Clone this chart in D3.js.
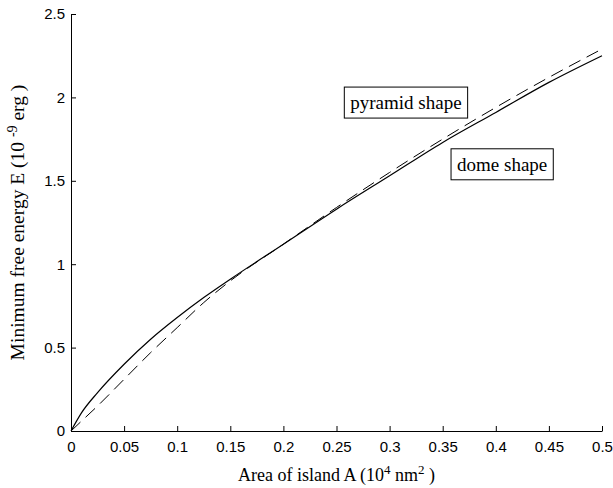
<!DOCTYPE html>
<html>
<head>
<meta charset="utf-8">
<script src="https://cdn.jsdelivr.net/npm/d3@7"></script>
<style>
  body { margin: 0; background: #fff; }
  svg { display: block; }
  .tick text { font-family: "Liberation Sans", Arial, sans-serif; font-size: 15px; fill: #000; }
  .serif { font-family: "Liberation Serif", "Times New Roman", serif; font-size: 18px; fill: #000; }
</style>
</head>
<body>
<div class="container"></div>
<script>
// island area (10^4 nm^2)
const areas = [0, 0.01, 0.025, 0.05, 0.075, 0.1, 0.125, 0.15, 0.2, 0.25, 0.3, 0.35, 0.4, 0.45, 0.5];
// dome shape (solid)
const domeEnergy = [0, 0.11, 0.23, 0.40, 0.55, 0.68, 0.80, 0.91, 1.12, 1.33, 1.53, 1.73, 1.91, 2.09, 2.25];
// pyramid shape (dashed)
const pyramidEnergy = [0, 0.06, 0.15, 0.31, 0.47, 0.62, 0.77, 0.90, 1.12, 1.34, 1.55, 1.75, 1.94, 2.12, 2.29];
const xTicks = [0, 0.05, 0.1, 0.15, 0.2, 0.25, 0.3, 0.35, 0.4, 0.45, 0.5];
const yTicks = [0, 0.5, 1, 1.5, 2, 2.5];

const width = 613;
const height = 488;
const plotLeft = 71, plotRight = 602, plotTop = 14, plotBottom = 431;

const svg = d3.select('.container').append('svg').attr('width', width).attr('height', height);

const xScale = d3.scaleLinear().domain([0, 0.5]).range([plotLeft, plotRight]);
const yScale = d3.scaleLinear().domain([0, 2.5]).range([plotBottom, plotTop]);

//axes, ticks pointing inward
const bottomAxis = d3.axisBottom(xScale).tickValues(xTicks).tickFormat(d => String(d))
  .tickSizeInner(-5).tickSizeOuter(0).tickPadding(10);
const leftAxis = d3.axisLeft(yScale).tickValues(yTicks).tickFormat(d => String(d))
  .tickSizeInner(-5).tickSizeOuter(0).tickPadding(6);

svg.append('g').attr('transform', `translate(0,${plotBottom})`).call(bottomAxis);
svg.append('g').attr('transform', `translate(${plotLeft},0)`).call(leftAxis);
svg.selectAll('.domain, .tick line').attr('stroke', '#000').attr('stroke-width', 1);

//lines
const line = d3.line()
  .x((d, i) => xScale(areas[i]))
  .y(d => yScale(d))
  .curve(d3.curveMonotoneX);

svg.append('path').attr('d', line(domeEnergy))
  .attr('fill', 'none').attr('stroke', '#000').attr('stroke-width', 1.2);
svg.append('path').attr('d', line(pyramidEnergy))
  .attr('fill', 'none').attr('stroke', '#000').attr('stroke-width', 1)
  .attr('stroke-dasharray', '13,7');

//boxed labels
const addBox = (label, x, y) => {
  const g = svg.append('g');
  const t = g.append('text').attr('class', 'serif').style('font-size', '19px')
    .attr('x', xScale(x)).attr('y', yScale(y)).text(label);
  const b = t.node().getBBox();
  g.insert('rect', 'text')
    .attr('x', b.x - 6).attr('y', b.y - 5)
    .attr('width', b.width + 12).attr('height', b.height + 10)
    .attr('fill', '#fff').attr('stroke', '#000').attr('stroke-width', 1);
};
addBox('pyramid shape', 0.263, 1.93);
addBox('dome shape', 0.3635, 1.56);

//axis labels
const xl = svg.append('text').attr('class', 'serif')
  .attr('x', (plotLeft + plotRight) / 2).attr('y', 481).attr('text-anchor', 'middle');
xl.append('tspan').text('Area of island A (10');
xl.append('tspan').attr('dy', -7).attr('font-size', 13).text('4');
xl.append('tspan').attr('dy', 7).text(' nm');
xl.append('tspan').attr('dy', -7).attr('font-size', 13).text('2');
xl.append('tspan').attr('dy', 7).text(' )');

const yl = svg.append('text').attr('class', 'serif').style('font-size', '19.5px')
  .attr('transform', `translate(24,${(plotTop + plotBottom) / 2}) rotate(-90)`)
  .attr('text-anchor', 'middle');
yl.append('tspan').text('Minimum free energy E  (10 ');
yl.append('tspan').attr('dy', -7).attr('font-size', 14).text('-9');
yl.append('tspan').attr('dy', 7).text(' erg )');
</script>
</body>
</html>
